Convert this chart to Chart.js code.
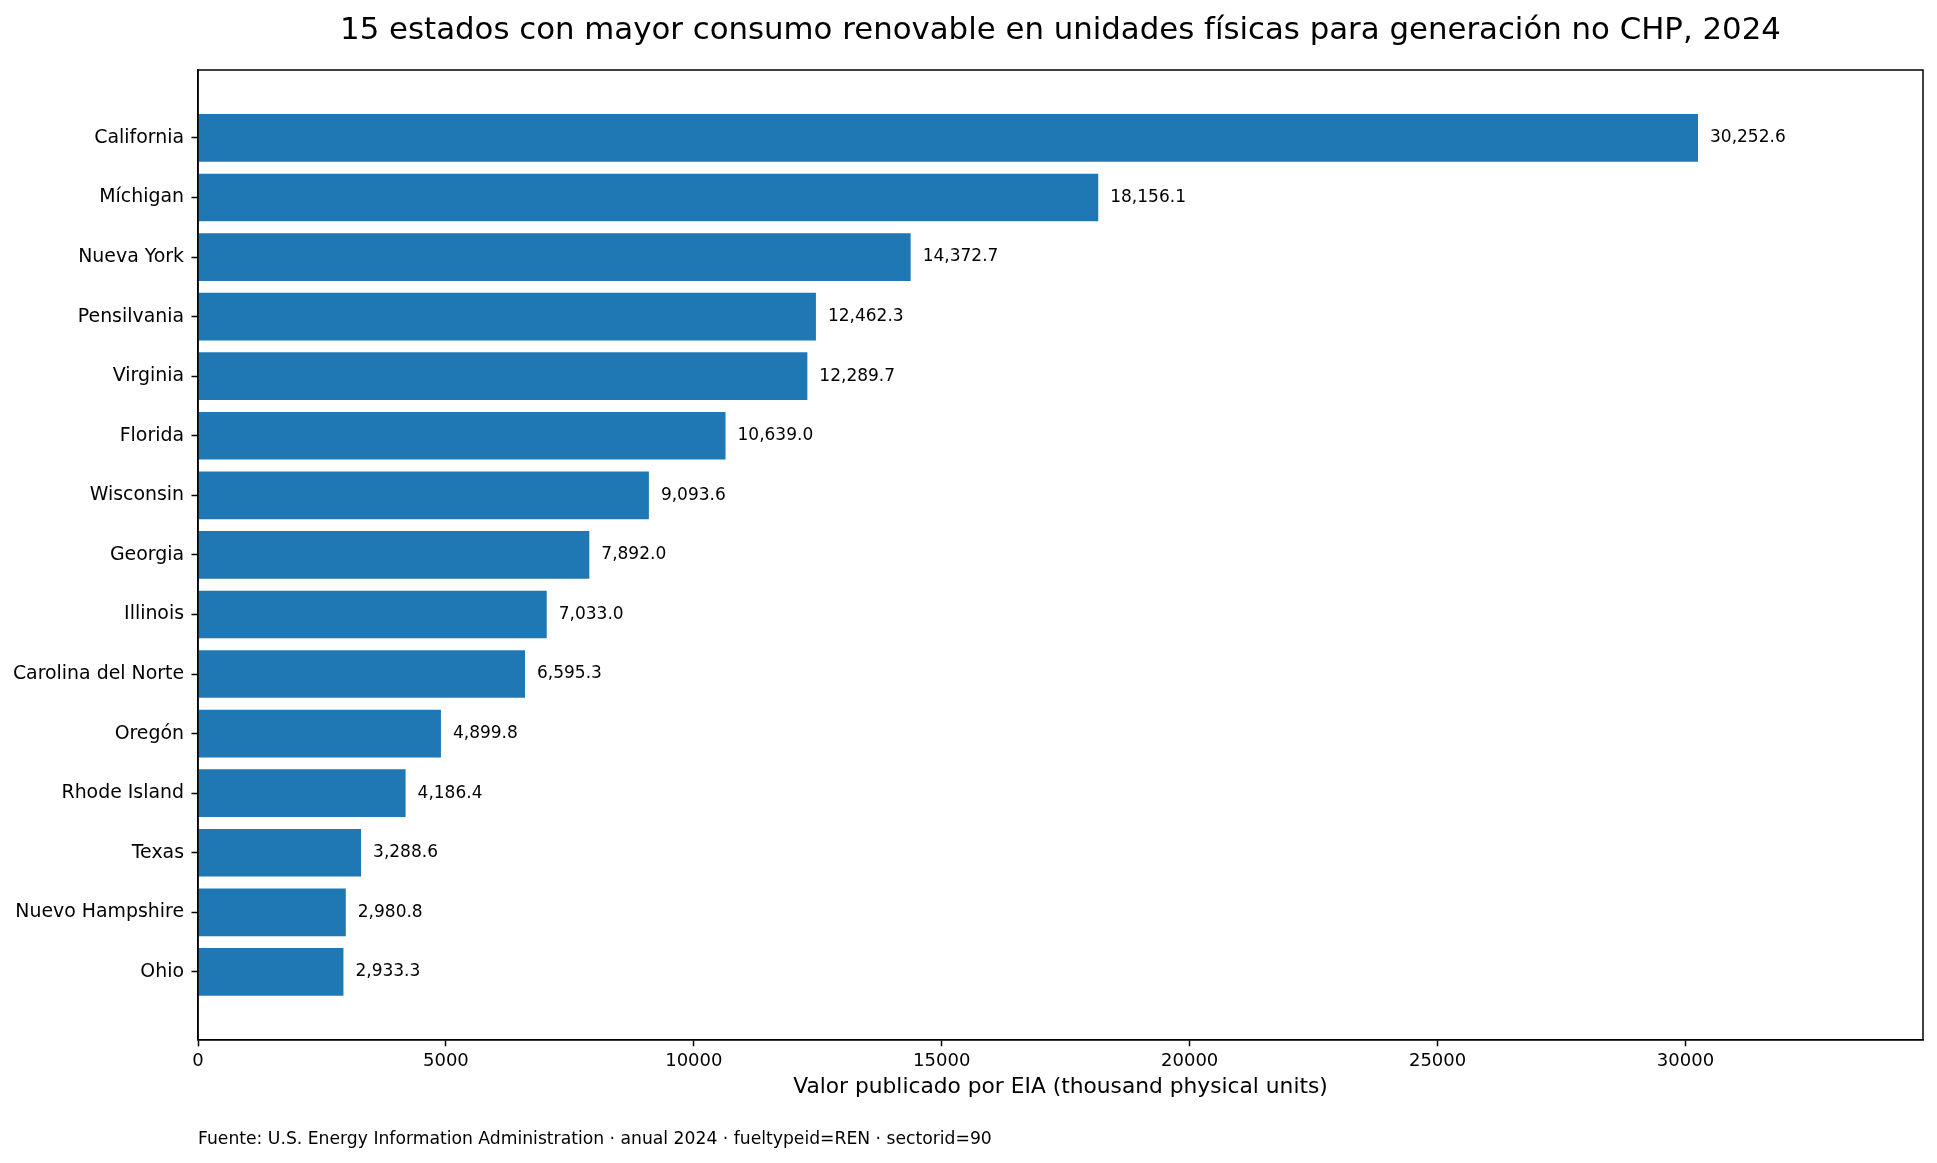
<!DOCTYPE html>
<html>
<head>
<meta charset="utf-8">
<title>Consumo renovable por estado</title>
<script src="https://cdn.jsdelivr.net/npm/chart.js@4"></script>
<style>
  html, body { margin: 0; padding: 0; background: #fff; }
  #wrap { width: 1937px; height: 1163px; }
</style>
</head>
<body>
<div id="wrap"><canvas id="chart" width="1937" height="1163"></canvas></div>
<script>
// data
var states = ["California", "Míchigan", "Nueva York", "Pensilvania", "Virginia", "Florida",
  "Wisconsin", "Georgia", "Illinois", "Carolina del Norte", "Oregón", "Rhode Island",
  "Texas", "Nuevo Hampshire", "Ohio"];
var values = [30252.6, 18156.1, 14372.7, 12462.3, 12289.7, 10639.0,
  9093.6, 7892.0, 7033.0, 6595.3, 4899.8, 4186.4,
  3288.6, 2980.8, 2933.3];
var xTicks = [0, 5000, 10000, 15000, 20000, 25000, 30000];

var TITLE  = "15 estados con mayor consumo renovable en unidades físicas para generación no CHP, 2024";
var XLABEL = "Valor publicado por EIA (thousand physical units)";
var SOURCE = "Fuente: U.S. Energy Information Administration · anual 2024 · fueltypeid=REN · sectorid=90";
var FONT = "'DejaVu Sans', sans-serif";

function fmt(v) {
  return v.toLocaleString("en-US", { minimumFractionDigits: 1, maximumFractionDigits: 1 });
}

// frame, value labels, title and source line
var decor = {
  id: "decor",
  afterDatasetsDraw: function(chart) {
    var ctx = chart.ctx, a = chart.chartArea;
    ctx.save();
    ctx.strokeStyle = "#000";
    ctx.lineWidth = 1.5;
    ctx.strokeRect(a.left, a.top, a.right - a.left, a.bottom - a.top);

    ctx.fillStyle = "#000";
    ctx.font = "17px " + FONT;
    ctx.textAlign = "left";
    ctx.textBaseline = "middle";
    chart.getDatasetMeta(0).data.forEach(function(bar, i) {
      ctx.fillText(fmt(values[i]), bar.x + 12, bar.y);
    });

    ctx.font = "30.8px " + FONT;
    ctx.textAlign = "center";
    ctx.fillText(TITLE, (a.left + a.right) / 2, 30.5);

    ctx.font = "17.2px " + FONT;
    ctx.textAlign = "left";
    ctx.fillText(SOURCE, a.left, 1140);
    ctx.restore();
  }
};

new Chart(document.getElementById("chart"), {
  type: "bar",
  data: {
    datasets: [{
      data: values.map(function(v, i) { return { x: v, y: i }; }),
      backgroundColor: "#1f77b4",
      borderWidth: 0,
      barPercentage: 0.8,
      categoryPercentage: 1.0
    }]
  },
  options: {
    indexAxis: "y",
    responsive: false,
    animation: false,
    devicePixelRatio: 1,
    layout: { padding: { left: 0, right: 14, top: 70, bottom: 62.5 } },
    plugins: { legend: { display: false }, tooltip: { enabled: false } },
    scales: {
      x: {
        type: "linear",
        min: 0,
        max: 34790,
        afterBuildTicks: function(s) { s.ticks = xTicks.map(function(v) { return { value: v }; }); },
        ticks: {
          color: "#000",
          padding: 4,
          maxRotation: 0,
          font: { family: FONT, size: 18 },
          callback: function(v) { return String(v); }
        },
        grid: { drawOnChartArea: false, drawTicks: true, tickLength: 6.5, tickColor: "#000", tickWidth: 1.5 },
        border: { display: true, color: "#000", width: 1.5 },
        title: {
          display: true,
          text: XLABEL,
          color: "#000",
          padding: { top: -1.5, bottom: 0 },
          font: { family: FONT, size: 21.75 }
        }
      },
      y: {
        type: "linear",
        reverse: true,
        offset: false,
        min: -1.14,
        max: 15.14,
        afterBuildTicks: function(s) { s.ticks = states.map(function(n, i) { return { value: i }; }); },
        afterFit: function(s) { s.width = 198; },
        ticks: {
          color: "#000",
          padding: 7.5,
          autoSkip: false,
          font: { family: FONT, size: 18.9 },
          callback: function(v) { return states[v] || ""; }
        },
        grid: { offset: false, drawOnChartArea: false, drawTicks: true, tickLength: 6.5, tickColor: "#000", tickWidth: 1.5 },
        border: { display: true, color: "#000", width: 1.5 }
      }
    }
  },
  plugins: [decor]
});
</script>
</body>
</html>
